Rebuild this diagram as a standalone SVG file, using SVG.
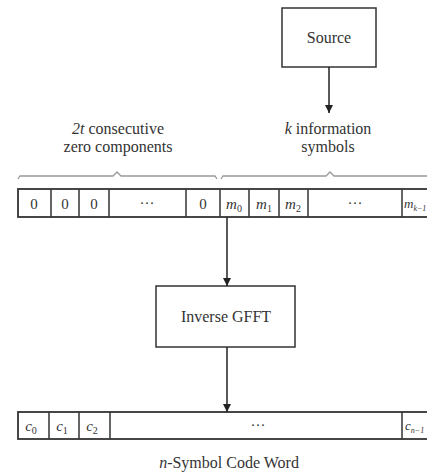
<svg xmlns="http://www.w3.org/2000/svg" width="427" height="475" viewBox="0 0 427 475">
  <defs>
    <marker id="arrow" viewBox="0 0 8 14" refX="8" refY="4" markerWidth="8" markerHeight="14" markerUnits="userSpaceOnUse" orient="auto">
      <path d="M0,0 L8,4 L0,8 Z" fill="#222"/>
    </marker>
    <style>
      text { font-family: "Liberation Serif", "Times New Roman", serif; fill: #333; }
      .lbl { font-size: 16px; text-anchor: middle; }
      .cell { font-size: 15px; text-anchor: middle; }
      .edge { font-size: 13px; text-anchor: start; }
      .box { fill: #fff; stroke: #333; stroke-width: 1.5; }
      .bar { fill: #fff; stroke: #333; stroke-width: 1.8; }
      .div { stroke: #333; stroke-width: 1.5; }
      .brace { fill: none; stroke: #999; stroke-width: 1.3; }
      .conn { stroke: #222; stroke-width: 1.5; fill: none; }
      .it { font-style: italic; }
      .sub { font-size: 10px; font-style: normal; }
      .edge .sub { font-size: 8px; font-style: italic; }
    </style>
  </defs>
  <rect width="427" height="475" fill="#fff"/>

  <!-- source block -->
  <g id="source">
    <rect class="box" x="282" y="8" width="94" height="59"/>
    <text class="lbl" x="329" y="43">Source</text>
  </g>

  <!-- labels above the message word -->
  <g id="label-zeros">
    <text class="lbl" x="118" y="134"><tspan class="it">2t</tspan> consecutive</text>
    <text class="lbl" x="118" y="152">zero components</text>
    <path class="brace" d="M18,179 L20,176 L113,176 L117,172 L121,176 L215,176 L217,179"/>
  </g>
  <g id="label-info">
    <text class="lbl" x="328" y="134"><tspan class="it">k</tspan> information</text>
    <text class="lbl" x="328" y="152">symbols</text>
    <path class="brace" d="M221,179 L223,176 L326,176 L330,172 L334,176 L427,176"/>
  </g>

  <!-- message word: 2t zeros followed by k information symbols -->
  <g id="message-word">
    <rect class="bar" x="18" y="189" width="420" height="28"/>
    <line class="div" x1="51" y1="189" x2="51" y2="217"/>
    <line class="div" x1="79" y1="189" x2="79" y2="217"/>
    <line class="div" x1="109" y1="189" x2="109" y2="217"/>
    <line class="div" x1="186" y1="189" x2="186" y2="217"/>
    <line class="div" x1="220" y1="189" x2="220" y2="217"/>
    <line class="div" x1="249" y1="189" x2="249" y2="217"/>
    <line class="div" x1="279" y1="189" x2="279" y2="217"/>
    <line class="div" x1="308" y1="189" x2="308" y2="217"/>
    <line class="div" x1="402" y1="189" x2="402" y2="217"/>
    <text class="cell" x="34" y="209">0</text>
    <text class="cell" x="65" y="209">0</text>
    <text class="cell" x="94" y="209">0</text>
    <text class="cell" x="147" y="208">···</text>
    <text class="cell" x="203" y="209">0</text>
    <text class="cell it" x="234" y="209">m<tspan class="sub" dy="3">0</tspan></text>
    <text class="cell it" x="264" y="209">m<tspan class="sub" dy="3">1</tspan></text>
    <text class="cell it" x="293" y="209">m<tspan class="sub" dy="3">2</tspan></text>
    <text class="cell" x="355" y="208">···</text>
    <text class="edge it" x="404" y="208">m<tspan class="sub" dy="3">k−1</tspan></text>
  </g>

  <!-- transform block -->
  <g id="inverse-gfft">
    <rect class="box" x="156" y="286" width="139" height="61"/>
    <text class="lbl" x="226" y="322">Inverse GFFT</text>
  </g>

  <!-- code word -->
  <g id="code-word">
    <rect class="bar" x="18" y="412" width="420" height="27"/>
    <line class="div" x1="49" y1="412" x2="49" y2="439"/>
    <line class="div" x1="79" y1="412" x2="79" y2="439"/>
    <line class="div" x1="110" y1="412" x2="110" y2="439"/>
    <line class="div" x1="402" y1="412" x2="402" y2="439"/>
    <text class="cell it" x="31" y="431">c<tspan class="sub" dy="3">0</tspan></text>
    <text class="cell it" x="62" y="431">c<tspan class="sub" dy="3">1</tspan></text>
    <text class="cell it" x="92" y="431">c<tspan class="sub" dy="3">2</tspan></text>
    <text class="cell" x="258" y="430">···</text>
    <text class="edge it" x="405" y="430">c<tspan class="sub" dy="3">n−1</tspan></text>
    <text class="lbl" x="229" y="468"><tspan class="it">n</tspan>-Symbol Code Word</text>
  </g>

  <!-- connectors -->
  <g id="connectors">
    <line class="conn" x1="329" y1="67" x2="329" y2="113" marker-end="url(#arrow)"/>
    <line class="conn" x1="227" y1="217" x2="227" y2="286" marker-end="url(#arrow)"/>
    <line class="conn" x1="227" y1="347" x2="227" y2="412" marker-end="url(#arrow)"/>
  </g>
</svg>
